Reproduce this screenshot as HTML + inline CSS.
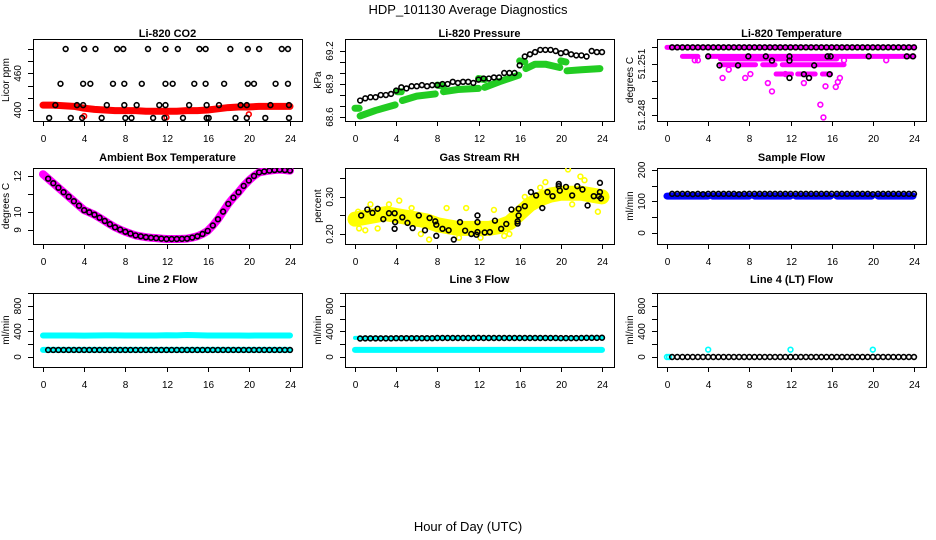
<!DOCTYPE html>
<html><head><meta charset="utf-8"><style>
html,body{margin:0;padding:0;background:#fff;}
svg{display:block;font-family:"Liberation Sans",sans-serif;}
</style></head><body>
<svg id="c" width="936" height="540" viewBox="0 0 936 540" xmlns="http://www.w3.org/2000/svg">
<rect width="936" height="540" fill="#fff"/>
<text x="468" y="14" text-anchor="middle" font-size="13">HDP_101130  Average Diagnostics</text>
<text x="468" y="531" text-anchor="middle" font-size="13">Hour of Day (UTC)</text>
</svg>
<script>
const hours = [0,1,2,3,4,5,6,7,8,9,10,11,12,13,14,15,16,17,18,19,20,21,22,23,24];
const half0 = [0,0.5,1,1.5,2,2.5,3,3.5,4,4.5,5,5.5,6,6.5,7,7.5,8,8.5,9,9.5,10,10.5,11,11.5,12,12.5,13,13.5,14,14.5,15,15.5,16,16.5,17,17.5,18,18.5,19,19.5,20,20.5,21,21.5,22,22.5,23,23.5,24];
const half1 = [0.5,1,1.5,2,2.5,3,3.5,4,4.5,5,5.5,6,6.5,7,7.5,8,8.5,9,9.5,10,10.5,11,11.5,12,12.5,13,13.5,14,14.5,15,15.5,16,16.5,17,17.5,18,18.5,19,19.5,20,20.5,21,21.5,22,22.5,23,23.5,24];
const xTicks = [0,4,8,12,16,20,24];

// CO2
const co2Red = [408,408,407,406,403,401,400,399,399,399,398,398,398,398,399,399,400,402,404,405,405,406,406,406,406];
const co2H500 = [2.2,4.0,5.1,7.2,7.8,10.2,11.9,13.1,15.2,15.8,18.2,19.9,21.0,23.2,23.8];
const co2H443 = [1.7,3.9,4.6,6.8,7.9,9.6,11.9,12.6,14.7,15.8,17.6,19.9,20.5,22.6,23.8];
const co2H408 = [1.2,3.3,3.9,6.2,7.9,9.1,11.3,11.9,14.2,15.9,17.1,19.2,19.8,22.1,23.9];
const co2H387 = [0.6,2.7,3.8,5.7,8.0,8.6,10.7,11.8,13.6,15.9,16.1,18.7,19.8,21.6,23.9];
const co2RedPtsH = [4.0,12.0,20.0];
const co2RedPtsV = [390,388,393];
// Pressure
const presGreenSegs = [
 [[0,0.4],[68.68,68.68]],[[0.5,2,3.9],[68.61,68.66,68.71]],[[4.1,4.5],[68.83,68.83]],
 [[4.6,6,7.8],[68.75,68.79,68.81]],[[8,8.6],[68.89,68.88]],[[8.6,10,12],[68.83,68.85,68.86]],
 [[12,12.6],[68.95,68.94]],[[12.6,14,15.9],[68.87,68.92,68.98]],[[16,16.5],[69.11,69.1]],
 [[16.6,17.5,18.5,19.9],[69.04,69.08,69.08,69.05]],[[20,20.5],[69.11,69.1]],[[20.6,22,23.8],[69.02,69.03,69.04]]];
const presBlack = [68.75,68.77,68.78,68.78,68.8,68.8,68.81,68.84,68.87,68.86,68.88,68.88,68.89,68.88,68.89,68.89,68.9,68.9,68.92,68.91,68.92,68.92,68.91,68.94,68.95,68.95,68.96,68.96,69,69,69,69.07,69.15,69.17,69.19,69.21,69.21,69.21,69.2,69.18,69.19,69.17,69.16,69.16,69.15,69.2,69.19,69.19];
// Li-820 temperature
const tempMagSegs = [
 [[0,24],51.25198],[[1.5,3],51.25145],[[4,24],51.25145],[[5.2,16.5],51.2513],
 [[5.2,8.6],51.25096],[[9.3,10.5],51.25096],[[11.2,14.4],51.25096],[[14.6,17.2],51.25096],
 [[10.6,11.2],51.25041],[[11.6,12.1],51.25041],[[12.7,14.4],51.25041],[[15.1,15.9],51.25041]];
const tempMagH = [5.4,7.6,8.1,9.8,10.2,13.3,14.9,15.2,15.4,16.4,16.6,16.8,6.0,17.2,21.3,3.0,2.7,11.5,13.8];
const tempMagV = [51.25018,51.25018,51.25041,51.24988,51.24939,51.24988,51.24861,51.24786,51.24969,51.24965,51.24994,51.25018,51.25067,51.25122,51.25122,51.25122,51.25122,51.25041,51.25018];
const tempBlackTop = [51.25198,51.25198,51.25198,51.25198,51.25198,51.25198,51.25198,51.25198,51.25198,51.25198,51.25198,51.25198,51.25198,51.25198,51.25198,51.25198,51.25198,51.25198,51.25198,51.25198,51.25198,51.25198,51.25198,51.25198,51.25198,51.25198,51.25198,51.25198,51.25198,51.25198,51.25198,51.25198,51.25198,51.25198,51.25198,51.25198,51.25198,51.25198,51.25198,51.25198,51.25198,51.25198,51.25198,51.25198,51.25198,51.25198,51.25198,51.25198];
const tempBlackH = [4.0,7.9,9.6,11.9,15.6,15.9,19.6,23.3,23.9,5.1,6.9,10.2,11.9,14.3,11.9,13.3,13.8,15.8];
const tempBlackV = [51.25145,51.25145,51.25145,51.25145,51.25145,51.25145,51.25145,51.25145,51.25145,51.25092,51.25092,51.2512,51.2512,51.25092,51.25018,51.2504,51.25018,51.2504];
// Ambient
const ambient = [12.1,11.85,11.6,11.35,11.1,10.85,10.6,10.35,10.1,9.98,9.85,9.68,9.5,9.32,9.15,9.02,8.9,8.8,8.7,8.65,8.6,8.57,8.55,8.52,8.5,8.5,8.5,8.51,8.52,8.58,8.65,8.78,8.95,9.25,9.6,10.02,10.45,10.8,11.1,11.45,11.75,12.0,12.2,12.25,12.3,12.33,12.35,12.33,12.3];
// RH
const rhMean = [0.24,0.245,0.25,0.255,0.25,0.245,0.24,0.235,0.225,0.22,0.215,0.215,0.215,0.215,0.22,0.23,0.255,0.28,0.295,0.305,0.31,0.31,0.31,0.305,0.30];
const rhYelH = [0.3,0.4,1.0,1.5,2.2,3.3,4.3,5.5,6.4,7.2,8.9,10.1,10.8,12.2,13.5,14.5,15.0,16.5,18.5,19.6,20.7,21.1,21.9,22.3,23.6,18.0];
const rhYelV = [0.26,0.215,0.21,0.28,0.215,0.28,0.29,0.27,0.2,0.185,0.27,0.19,0.27,0.19,0.265,0.195,0.2,0.3,0.34,0.315,0.374,0.28,0.355,0.345,0.26,0.325];
const rhBlackH = [0.6,1.2,1.7,2.2,2.75,3.3,3.85,3.9,3.85,4.6,5.1,5.6,6.2,6.8,7.25,7.8,7.9,7.9,8.5,9.1,9.6,10.2,10.7,11.3,11.8,11.9,11.9,11.9,12.6,13.1,13.6,14.2,14.7,15.2,15.8,15.8,15.9,15.9,16.5,17.1,17.6,18.2,18.7,19.2,19.8,19.8,19.9,20.5,21.1,21.6,22.1,22.6,23.2,23.7,23.8,23.8,23.9];
const rhBlackV = [0.25,0.266,0.257,0.268,0.24,0.256,0.256,0.232,0.214,0.245,0.23,0.216,0.25,0.21,0.243,0.234,0.225,0.195,0.214,0.21,0.185,0.232,0.209,0.2,0.198,0.205,0.232,0.25,0.204,0.205,0.236,0.214,0.227,0.266,0.234,0.228,0.25,0.268,0.275,0.313,0.304,0.27,0.313,0.302,0.335,0.329,0.317,0.327,0.304,0.329,0.32,0.277,0.302,0.302,0.338,0.313,0.296];
// Sample flow
const sampleBlueSegs = [[0,4],[4.4,8],[8.5,12],[12.5,15.9],[16.5,19.9],[20.5,23.9]];
const sampleBlueVal = [117,117,117,117,117,117];
const sampleBlack = [124,124,124,124,123,124,123,124,124,124,124,124,124,123,124,124,124,124,124,124,124,124,124,124,124,124,124,124,124,124,124,124,124,124,124,124,124,124,124,123,124,124,124,124,124,124,124,124];
// Line flows
const l2CyanHigh = [338,338,338,338,335,338,340,340,338,338,338,338,342,340,345,342,338,338,338,338,335,338,338,338,338];
const l2CyanLow = [112,112,112,112,112,112,112,112,112,112,112,112,112,112,112,112,112,112,112,112,112,112,112,112,112];
const l2Black = [110,110,110,110,110,110,110,110,110,110,110,110,110,110,110,110,110,110,110,110,110,110,110,110,110,110,110,110,110,110,110,110,110,110,110,110,110,110,110,110,110,110,110,110,110,110,110,110];
const l3CyanLow = [112,112,112,112,112,112,112,112,112,112,112,112,112,112,112,112,112,112,112,112,112,112,112,112,112];
const l3CyanHigh = [300,300,300,300,295,300,300,300,300,300,300,300,298,300,300,300,300,300,300,300,285,300,300,305,305];
const l3Black = [290,292,292,292,292,292,292,295,295,295,295,295,295,295,295,298,298,298,298,298,298,298,298,300,298,298,298,298,298,298,298,298,298,298,298,298,298,298,298,296,296,296,296,298,300,300,300,302];
const l4Black = [0,0,0,0,0,0,0,0,0,0,0,0,0,0,0,0,0,0,0,0,0,0,0,0,0,0,0,0,0,0,0,0,0,0,0,0,0,0,0,0,0,0,0,0,0,0,0,0];
const l4CyanH = [0,0.2,4,12,20];
const l4CyanV = [0,0,115,115,115];

const NS = 'http://www.w3.org/2000/svg';
const svg = document.getElementById('c');
function mk(tag, attrs, parent){const e=document.createElementNS(NS,tag);for(const k in attrs)e.setAttribute(k,attrs[k]);(parent||svg).appendChild(e);return e;}

const cols=[33,345,657], rows=[[39,121,37,142],[168,244,161,265],[293,367,283,388]];
function makePanel(name,col,row,ymin,ymax,yTicks,yLabels,title,ylab){
  const L=cols[col],R=L+269,[T,B,tb,lb]=rows[row];
  const g=mk('g',{});
  
  
  const x0=L+10,x1=R-12;
  const p={g,sx:h=>x0+h/24*(x1-x0),sy:v=>B-(v-ymin)/(ymax-ymin)*(B-T)};
  const box=mk('rect',{x:L+0.5,y:T+0.5,width:269,height:B-T,fill:'none',stroke:'#000','stroke-width':1},g);
  
  
  const t=mk('text',{x:(L+R)/2,y:tb,'text-anchor':'middle','font-size':11,'font-weight':'bold'},g);t.textContent=title;
  
  
  const xa=mk('g',{},g);
  
  
  mk('line',{x1:p.sx(0),x2:p.sx(24),y1:B+0.5,y2:B+0.5,stroke:'#000'},xa);
  xTicks.forEach(h=>{const x=Math.round(p.sx(h))+0.5;mk('line',{x1:x,x2:x,y1:B,y2:B+5,stroke:'#000'},xa);
    const tx=mk('text',{x:x,y:lb,'text-anchor':'middle','font-size':10},xa);tx.textContent=h;});
  const ya=mk('g',{},g);
  
  
  const ys=yTicks.map(p.sy);
  mk('line',{x1:L+0.5,x2:L+0.5,y1:Math.min(...ys),y2:Math.max(...ys),stroke:'#000'},ya);
  yTicks.forEach(v=>{const y=Math.round(p.sy(v))+0.5;mk('line',{x1:L-5,x2:L,y1:y,y2:y,stroke:'#000'},ya);});
  yLabels.forEach(v=>{const y=p.sy(v),x=L-12;const tx=mk('text',{x:x,y:y,'text-anchor':'middle','font-size':10,transform:`rotate(-90 ${x} ${y})`},ya);tx.textContent=v;});
  const yl=mk('text',{x:L-24,y:(T+B)/2,'text-anchor':'middle','font-size':10,transform:`rotate(-90 ${L-24} ${(T+B)/2})`},g);yl.textContent=ylab;
  
  
  const cp='clip'+name;const cl=mk('clipPath',{id:cp},g);mk('rect',{x:L,y:T,width:270,height:B-T},cl);
  p.d=mk('g',{'clip-path':`url(#${cp})`},g);
  
  
  return p;
}
function band(p,hs,vs,color,w,nm){
  const pl=mk('polyline',{points:hs.map((h,i)=>p.sx(h)+','+p.sy(vs[i])).join(' '),fill:'none',stroke:color,'stroke-width':w,'stroke-linecap':'round','stroke-linejoin':'round'},p.d);
  
  
}
function pts(p,hs,vs,color,nm,r){
  hs.forEach((h,i)=>{const c=mk('circle',{cx:p.sx(h),cy:p.sy(vs[i]),r:r||2.4,fill:'none',stroke:color,'stroke-width':1.6},p.d);
    
    });
}

let p=makePanel('co2',0,0,382,516.4,[400,420,440,460,480,500],[400,460],'Li-820 CO2','Licor ppm');
band(p,hours,co2Red,'#ff0000',7,'co2-red-band');
pts(p,co2RedPtsH,co2RedPtsV,'#ff0000','co2-red-point');
pts(p,co2H500,co2H500.map(()=>500),'#000','co2-point');
pts(p,co2H443,co2H443.map(()=>443),'#000','co2-point');
pts(p,co2H408,co2H408.map(()=>408),'#000','co2-point');
pts(p,co2H387,co2H387.map(()=>387),'#000','co2-point');

p=makePanel('pressure',1,0,68.564,69.309,[68.6,68.7,68.8,68.9,69.0,69.1,69.2],[68.6,68.9,69.2],'Li-820 Pressure','kPa');
presGreenSegs.forEach(s=>band(p,s[0],s[1],'#22cc22',7,'pressure-green-band'));
pts(p,half1,presBlack,'#000','pressure-point');

p=makePanel('li820-temp',2,0,51.24765,51.25247,[51.248,51.249,51.25,51.251,51.252],[51.248,51.251],'Li-820 Temperature','degrees C');
tempMagSegs.forEach(s=>band(p,s[0],[s[1],s[1]],'#ff00ff',5,'temp-magenta-band'));
pts(p,tempMagH,tempMagV,'#ff00ff','temp-magenta-point');
pts(p,half1,tempBlackTop,'#000','temp-point');
pts(p,tempBlackH,tempBlackV,'#000','temp-point');

p=makePanel('ambient',0,1,8.222,12.444,[9,10,11,12],[9,10,12],'Ambient Box Temperature','degrees C');
band(p,half0,ambient,'#ff00ff',8,'ambient-magenta-band');
pts(p,half1,ambient.slice(1),'#000','ambient-point');

p=makePanel('rh',1,1,0.173,0.378,[0.2,0.25,0.3,0.35],[0.2,0.3],'Gas Stream RH','percent');
band(p,hours,rhMean,'#ffff00',15,'rh-yellow-band');
pts(p,rhYelH,rhYelV,'#ffff00','rh-yellow-point');
pts(p,rhBlackH,rhBlackV,'#000','rh-point');
p.g.querySelectorAll('text').forEach(t=>{if(t.textContent==='0.2')t.textContent='0.20';if(t.textContent==='0.3')t.textContent='0.30';});

p=makePanel('sample-flow',2,1,-35,206,[0,50,100,150,200],[0,100,200],'Sample Flow','ml/min');
sampleBlueSegs.forEach((s,i)=>band(p,s,[sampleBlueVal[i],sampleBlueVal[i]],'#0000ff',7,'sample-blue-band'));
pts(p,half1,sampleBlack,'#000','sample-point');

p=makePanel('line2-flow',0,2,-157,1004,[0,200,400,600,800,1000],[0,400,800],'Line 2 Flow','ml/min');
band(p,hours,l2CyanHigh,'#00ffff',6,'line2-cyan-high');
band(p,hours,l2CyanLow,'#00ffff',6,'line2-cyan-low');
pts(p,half1,l2Black,'#000','line2-point');

p=makePanel('line3-flow',1,2,-157,1004,[0,200,400,600,800,1000],[0,400,800],'Line 3 Flow','ml/min');
band(p,hours,l3CyanLow,'#00ffff',6,'line3-cyan-low');
band(p,hours,l3CyanHigh,'#00ffff',4,'line3-cyan-high');
pts(p,half1,l3Black,'#000','line3-point');

p=makePanel('line4-flow',2,2,-157,1004,[0,200,400,600,800,1000],[0,400,800],'Line 4 (LT) Flow','ml/min');
pts(p,l4CyanH,l4CyanV,'#00ffff','line4-cyan-point');
pts(p,half1,l4Black,'#000','line4-point');
</script>
</body></html>
